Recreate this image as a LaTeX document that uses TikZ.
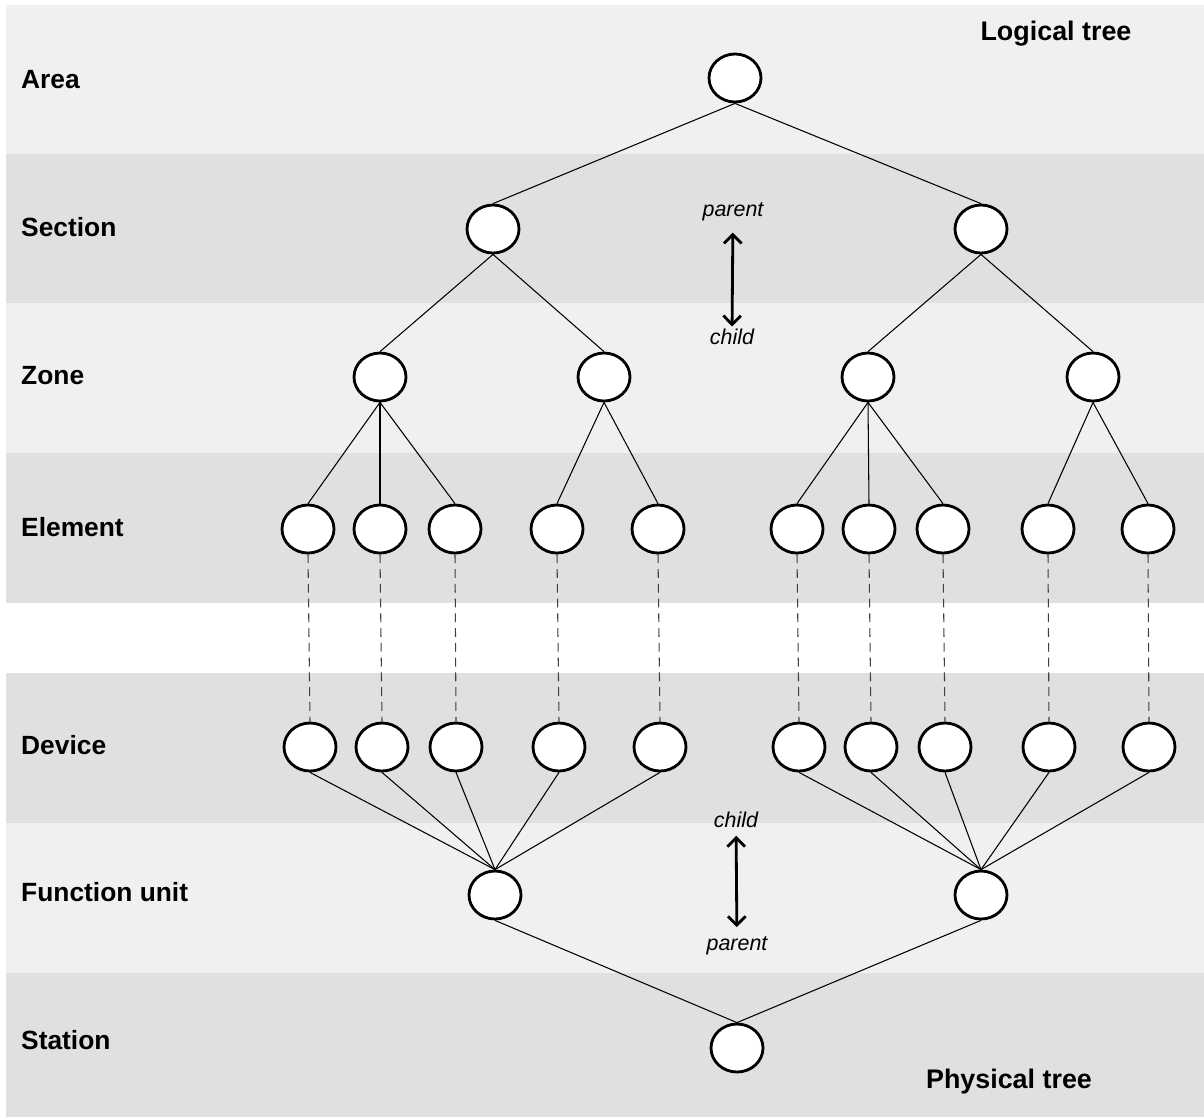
\documentclass[tikz,border=0pt]{standalone}
\usepackage{fontspec}
\setmainfont{Liberation Sans}
\usetikzlibrary{arrows.meta,shapes.geometric}

\definecolor{bandlight}{HTML}{F0F0F0}
\definecolor{banddark}{HTML}{E0E0E0}

\tikzset{
  treenode/.style={ellipse,draw,line width=1.6pt,fill=white,minimum width=1.04cm,minimum height=0.96cm,inner sep=0pt},
  treeedge/.style={line width=0.6pt},
  linkedge/.style={line width=0.6pt,black!75,dash pattern=on 5pt off 3.4pt},
  levellabel/.style={anchor=west,font=\bfseries\fontsize{15}{18}\selectfont},
  treetitle/.style={font=\bfseries\fontsize{15.3}{18}\selectfont},
  dirlabel/.style={font=\itshape\fontsize{12.2}{14}\selectfont},
  dirarrow/.style={line width=1.6pt,{Straight Barb[length=5pt,width=10pt]}-{Straight Barb[length=5pt,width=10pt]}}
}

\begin{document}
\begin{tikzpicture}[x=0.02cm,y=-0.02cm]
\useasboundingbox (0,0) rectangle (1204,1117);
% level bands
\foreach \ya/\yb/\col in {5/154/bandlight,154/303/banddark,303/453/bandlight,453/603/banddark,673/823/banddark,823/973/bandlight,973/1117/banddark}
{
	\fill[\col] (6,\ya) rectangle (1204,\yb);
}
% level names
\foreach \y/\txt in {80/Area,227/Section,376/Zone,527/Element,745/Device,892/Function unit,1040/Station}
{
	\node[levellabel] (lbl-\txt) at (15,\y) {\txt};
}
\node[treetitle] (logical) at (1056,34) {Logical tree};
\node[treetitle] (physical) at (1009,1082) {Physical tree};

% logical tree
\node[treenode] (area) at (735,78) {};
\node[treenode] (sec1) at (493,229) {};
\node[treenode] (sec2) at (981,229) {};
\foreach \n/\x in {1/380,2/604,3/868,4/1093}
	\node[treenode] (zone\n) at (\x,377) {};
\foreach \n/\x in {1/308,2/380,3/455,4/557,5/658,6/797,7/869,8/943,9/1048,10/1148}
	\node[treenode] (el\n) at (\x,529) {};

% physical tree
\foreach \n/\x in {1/310,2/382,3/456,4/559,5/660,6/799,7/871,8/945,9/1049,10/1149}
	\node[treenode] (dev\n) at (\x,747) {};
\node[treenode] (fu1) at (495,895) {};
\node[treenode] (fu2) at (981,895) {};
\node[treenode] (stat) at (737,1048) {};

% edges
\draw[treeedge] (area.south) -- (sec1.north);
\draw[treeedge] (area.south) -- (sec2.north);
\draw[treeedge] (sec1.south) -- (zone1.north);
\draw[treeedge] (sec1.south) -- (zone2.north);
\draw[treeedge] (sec2.south) -- (zone3.north);
\draw[treeedge] (sec2.south) -- (zone4.north);
\foreach \z/\e in {1/1,1/2,1/3,2/4,2/5,3/6,3/7,3/8,4/9,4/10}
	\draw[treeedge] (zone\z.south) -- (el\e.north);
\foreach \i in {1,...,10}
	\draw[linkedge] (el\i.south) -- (dev\i.north);
\foreach \d in {1,...,5}
	\draw[treeedge] (dev\d.south) -- (fu1.north);
\foreach \d in {6,...,10}
	\draw[treeedge] (dev\d.south) -- (fu2.north);
\draw[treeedge] (fu1.south) -- (stat.north);
\draw[treeedge] (fu2.south) -- (stat.north);

% direction hints
\node[dirlabel] (par1) at (733,212) {parent};
\node[dirlabel] (ch1) at (732,337) {child};
\draw[dirarrow,shorten <=3pt,shorten >=-2pt] (par1) -- (ch1);
\node[dirlabel] (ch2) at (736,820) {child};
\node[dirlabel] (par2) at (737,946) {parent};
\draw[dirarrow,shorten <=1pt,shorten >=2pt] (ch2) -- (par2);
\end{tikzpicture}
\end{document}
